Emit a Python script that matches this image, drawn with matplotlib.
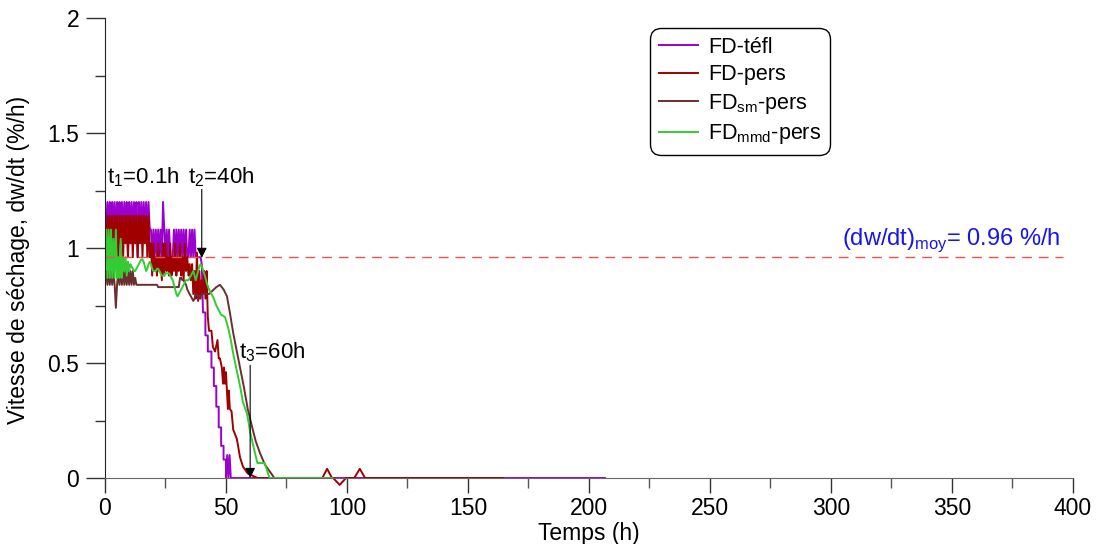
import numpy as np
import matplotlib.pyplot as plt
from matplotlib.ticker import MultipleLocator

plt.rcParams['font.family'] = ['Liberation Sans', 'DejaVu Sans']

# dense part of the records: one reading every 0.5 h up to 40 h
t_dense = np.arange(0.5, 40.01, 0.5)

tefl_dense = [1.08, 1.2, 1.08, 1.2, 0.96, 1.2, 1.08, 1.2, 1.08, 1.2,
              0.96, 1.2, 1.08, 1.2, 1.08, 1.2, 1.08, 1.2, 0.96, 1.2,
              1.08, 1.2, 1.08, 1.2, 1.08, 1.2, 0.96, 1.2, 1.08, 1.2,
              1.08, 1.2, 1.08, 1.2, 1.08, 1.2, 1.08,
              1.08, 0.96, 1.08, 0.96, 1.08, 0.96, 1.08, 0.96, 1.08, 0.96, 1.2,
              1.08, 0.96, 1.08, 0.96, 1.08, 0.96, 0.96, 0.96, 1.08, 0.96,
              1.08, 0.96, 1.08, 0.96, 1.08, 0.96, 1.08, 0.96, 1.08, 0.96,
              0.96, 1.08, 0.96, 1.08, 0.96, 1.08, 0.96, 0.96, 0.96, 0.96,
              0.96, 0.93]
tefl_t_tail = [40.5, 41.5, 41.5, 42.5, 42.5, 44, 44, 45, 45, 46, 46, 47, 47,
               48, 48, 49, 49, 50, 50, 50.5, 51, 51.5, 52, 206.6]
tefl_tail = [0.72, 0.72, 0.62, 0.62, 0.55, 0.55, 0.48, 0.48, 0.40, 0.40,
             0.31, 0.31, 0.22, 0.22, 0.14, 0.14, 0.08, 0.08, 0.0, 0.10,
             0.0, 0.10, 0.0, 0.0]

pers_dense = [0.96,
              1.14, 0.96, 1.14, 1.02, 1.14, 0.96, 1.14, 1.02,
              1.14, 0.96, 1.14, 1.02, 1.14, 0.96, 1.14, 1.02,
              1.14, 0.96, 1.14, 1.02, 1.14, 0.96, 1.14, 1.02,
              1.14, 0.96, 1.14, 1.02, 1.14, 0.96, 1.14, 1.02,
              1.14, 0.96, 1.14, 0.96,
              1.02, 0.88, 1.02, 0.9, 0.96, 0.88, 1.02, 0.9, 0.96, 0.86,
              1.02, 0.88, 1.02, 0.9, 0.96, 0.88, 1.02, 0.88, 0.96, 0.9,
              1.02, 0.88, 0.96, 0.9, 1.02, 0.88, 0.96, 0.86, 1.02, 0.9,
              0.96, 0.88, 0.93, 0.86, 0.93, 0.8, 0.9, 0.78, 0.98, 0.77,
              0.9, 0.78, 0.86]
pers_t_tail = [40.5, 41, 41.5, 42, 42.5, 43, 44, 44.6, 45.5, 46.5,
               47, 47.5, 48.3, 48.8, 49.2, 49.6, 50, 50.4, 50.8, 51.2,
               51.6, 52.3, 53, 54.5, 55.8, 57, 59, 63, 89.8, 91.8,
               93.8, 94.3, 97, 99.6, 103, 105.3, 107.5, 164.5]
pers_tail = [0.8, 0.9, 0.78, 0.9, 0.7, 0.64, 0.64, 0.57, 0.55, 0.6,
             0.52, 0.52, 0.48, 0.41, 0.48, 0.41, 0.46, 0.38, 0.30, 0.38,
             0.30, 0.29, 0.21, 0.17, 0.09, 0.05, 0.02, 0.0, 0.0, 0.04,
             0.0, 0.0, -0.03, 0.0, 0.0, 0.04, 0.0, 0.0]

sm_dense = [0.9, 0.84, 0.9, 0.84, 0.9, 0.84, 0.9, 0.84,
            0.74, 0.84,
            0.9, 0.84, 0.9, 0.84, 0.9, 0.84, 0.9, 0.84, 0.9, 0.84, 0.9, 0.84, 0.9, 0.84,
            0.87, 0.84,
            0.84, 0.84, 0.84, 0.84, 0.84, 0.84, 0.84, 0.84, 0.84, 0.84,
            0.84, 0.84, 0.84, 0.84, 0.84, 0.84, 0.84, 0.83, 0.83, 0.83,
            0.83, 0.83, 0.83, 0.83, 0.83, 0.83, 0.83, 0.83, 0.83, 0.83,
            0.83, 0.83, 0.83, 0.83, 0.83,
            0.87, 0.87, 0.86, 0.86, 0.85, 0.84, 0.82, 0.81, 0.8, 0.79,
            0.78, 0.77, 0.78, 0.8, 0.8, 0.79, 0.78, 0.79, 0.8]
sm_t_tail = [41, 42, 43, 44, 45, 46, 47.5, 49, 50.4, 51.6, 53, 54.5, 56,
             57.5, 59, 60.6, 62.3, 64, 66, 68, 70, 95]
sm_tail = [0.8, 0.8, 0.8, 0.81, 0.82, 0.83, 0.84, 0.82, 0.79, 0.72,
           0.63, 0.55, 0.47, 0.39, 0.3, 0.23, 0.16, 0.11, 0.06, 0.03,
           0.0, 0.0]

mmd_dense = [1.08, 0.87, 1.08, 0.87, 1.08, 0.87, 1.04, 0.87, 1.08, 0.87,
             0.96, 0.87, 1.04, 0.87, 0.96, 0.9,
             0.96, 0.88, 0.94, 0.9, 0.93, 0.92,
             0.91, 0.9, 0.9, 0.91, 0.92, 0.93, 0.94, 0.95, 0.95, 0.94,
             0.92, 0.9, 0.91, 0.93, 0.94, 0.93, 0.91, 0.9, 0.9, 0.9,
             0.91, 0.91, 0.9, 0.89, 0.88, 0.88, 0.88, 0.89, 0.89, 0.89,
             0.89, 0.88, 0.87, 0.86, 0.84, 0.82, 0.8, 0.79, 0.8, 0.81,
             0.82, 0.83, 0.84, 0.85, 0.86, 0.86, 0.86, 0.87, 0.88, 0.89,
             0.9, 0.88, 0.86, 0.88, 0.9, 0.92, 0.93, 0.92]
mmd_t_tail = [41, 42, 43, 44, 45, 46, 47, 48, 49.6, 51, 52, 53, 54, 55, 56,
              57, 58.7, 60, 61.5, 63, 66, 68, 94]
mmd_tail = [0.89, 0.85, 0.82, 0.8, 0.78, 0.75, 0.73, 0.71, 0.7, 0.65,
            0.6, 0.54, 0.49, 0.44, 0.39, 0.33, 0.28, 0.2, 0.13, 0.065,
            0.065, 0.0, 0.0]

rate_moy = 0.96

series = [
    ("FD-téfl", tefl_dense, tefl_t_tail, tefl_tail, "#9B00CF"),
    ("FD-pers", pers_dense, pers_t_tail, pers_tail, "#A00000"),
    ("FD$_{\\mathregular{sm}}$-pers", sm_dense, sm_t_tail, sm_tail, "#6B2E2E"),
    ("FD$_{\\mathregular{mmd}}$-pers", mmd_dense, mmd_t_tail, mmd_tail, "#33CC33"),
]

fig = plt.figure(figsize=(10.98, 5.44), dpi=100)
ax = fig.add_axes([0.0956, 0.1213, 0.8816, 0.8456])

for label, dense, t_tail, tail, col in series:
    t = np.concatenate([t_dense, t_tail])
    y = np.concatenate([dense, tail])
    ax.plot(t, y, color=col, lw=1.4, label=label, clip_on=False)

ax.plot([0, 396], [rate_moy, rate_moy], color="#F05050", lw=1.0,
        dashes=(7, 5))
ax.text(395, 1.015, "(dw/dt)$_{\\mathregular{moy}}$= 0.96 %/h", color="#1515F0",
        fontsize=17, ha="right", va="baseline")

# time markers
ax.text(0.8, 1.28, "t$_{\\mathregular{1}}$=0.1h", fontsize=16, va="baseline")
ax.text(34.3, 1.28, "t$_{\\mathregular{2}}$=40h", fontsize=16, va="baseline")
ax.annotate("", xy=(40, 0.957), xytext=(40, 1.255),
            arrowprops=dict(arrowstyle="-|>", color="black", lw=0.8,
                            mutation_scale=15, shrinkA=0, shrinkB=0))
ax.text(55.5, 0.52, "t$_{\\mathregular{3}}$=60h", fontsize=16, va="baseline")
ax.annotate("", xy=(60, 0.0), xytext=(60, 0.49),
            arrowprops=dict(arrowstyle="-|>", color="black", lw=0.8,
                            mutation_scale=15, shrinkA=0, shrinkB=0))

ax.set_xlim(0, 400)
ax.set_ylim(0, 2)
ax.xaxis.set_major_locator(MultipleLocator(50))
ax.xaxis.set_minor_locator(MultipleLocator(25))
ax.yaxis.set_major_locator(MultipleLocator(0.5))
ax.yaxis.set_minor_locator(MultipleLocator(0.25))
ax.set_yticks([0, 0.5, 1, 1.5, 2])
ax.set_yticklabels(["0", "0.5", "1", "1.5", "2"])
ax.tick_params(axis="y", which="major", length=13.5, width=1, pad=5,
               labelsize=16.5, color="#333333")
ax.tick_params(axis="y", which="minor", length=7, width=1, color="#333333")
ax.tick_params(axis="x", which="major", length=11, width=1, pad=3,
               labelsize=16.5, color="#333333")
ax.tick_params(axis="x", which="minor", length=7, width=1, color="#555555")
for s in ["top", "right"]:
    ax.spines[s].set_visible(False)
ax.spines["left"].set_color("#222222")
ax.spines["bottom"].set_color("#666666")
ax.set_xlabel("Temps (h)", fontsize=16.5, labelpad=1)
ax.set_ylabel("Vitesse de séchage, dw/dt (%/h)", fontsize=16.5)
ax.yaxis.set_label_coords(-0.077, 0.474)

leg = ax.legend(loc="upper left", bbox_to_anchor=(0.563, 0.978), fontsize=15.5,
                handlelength=1.85, handletextpad=0.45, labelspacing=0.3,
                borderpad=0.4, borderaxespad=0, frameon=True, fancybox=True,
                framealpha=1)
leg.get_frame().set_edgecolor("black")
leg.get_frame().set_linewidth(1.0)
leg.get_frame().set_boxstyle("round,pad=0,rounding_size=0.5")

fig.savefig("out.png", dpi=100)
